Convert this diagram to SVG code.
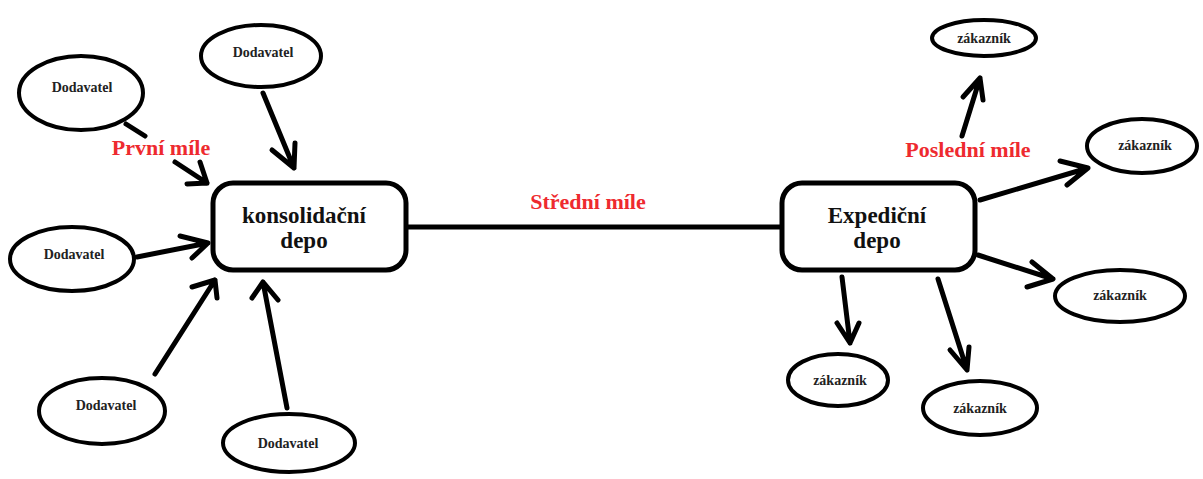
<svg xmlns="http://www.w3.org/2000/svg" width="1203" height="479" viewBox="0 0 1203 479">
<style>
.ell{fill:#fff;stroke:#000;stroke-width:4}
.box{fill:#fff;stroke:#000;stroke-width:5}
.con{fill:none;stroke:#000;stroke-width:5;stroke-linecap:round;stroke-linejoin:round}
.sm{font-family:"Liberation Serif",serif;font-weight:bold;font-size:14px;fill:#222;text-anchor:middle}
.big{font-family:"Liberation Serif",serif;font-weight:bold;font-size:23px;fill:#111;text-anchor:middle}
.red{font-family:"Liberation Serif",serif;font-weight:bold;font-size:22px;fill:#ee2a2f;text-anchor:middle}
</style>
<rect width="1203" height="479" fill="#fff"/>
<g id="connectors">
<path class="con" d="M408,227 L782,227"/>
<path class="con" d="M126,124 L145,136 M175,162 L207,183 M187,184 L207,183 L200,162"/>
<path class="con" d="M263,93 L294,168 M272,150 L294,168 L295,143"/>
<path class="con" d="M137,257 L208,243 M180,236 L208,243 L192,258"/>
<path class="con" d="M155,374 L215,280 M192,287 L215,280 L217,298"/>
<path class="con" d="M287,408 L263,282 M252,298 L263,282 L278,300"/>
<path class="con" d="M962,136 L980,78 M963,97 L980,78 L983,100"/>
<path class="con" d="M980,200 L1088,168 M1060,161 L1088,168 L1067,185"/>
<path class="con" d="M978,255 L1053,279 M1032,262 L1053,279 L1027,287"/>
<path class="con" d="M842,277 L850,343 M837,323 L850,343 L859,323"/>
<path class="con" d="M938,279 L967,370 M950,350 L967,370 L969,347"/>
</g>
<g id="konsolidacni-depo">
<rect class="box" x="213" y="183" width="193" height="87" rx="20"/>
<text class="big" x="304" y="223">konsolidační</text>
<text class="big" x="304" y="248">depo</text>
</g>
<g id="expedicni-depo">
<rect class="box" x="782" y="183" width="193" height="87" rx="20"/>
<text class="big" x="877" y="223">Expediční</text>
<text class="big" x="877" y="248">depo</text>
</g>
<g id="dodavatel-1">
<ellipse class="ell" cx="81" cy="93" rx="62" ry="37"/>
<text class="sm" x="82" y="92">Dodavatel</text>
</g>
<g id="dodavatel-2">
<ellipse class="ell" cx="261" cy="56" rx="60" ry="31"/>
<text class="sm" x="263" y="57">Dodavatel</text>
</g>
<g id="dodavatel-3">
<ellipse class="ell" cx="72" cy="259" rx="62" ry="32"/>
<text class="sm" x="74" y="259">Dodavatel</text>
</g>
<g id="dodavatel-4">
<ellipse class="ell" cx="102" cy="411" rx="63" ry="33"/>
<text class="sm" x="106" y="410">Dodavatel</text>
</g>
<g id="dodavatel-5">
<ellipse class="ell" cx="289" cy="443" rx="66" ry="29"/>
<text class="sm" x="288" y="448">Dodavatel</text>
</g>
<g id="zakaznik-1">
<ellipse class="ell" cx="984" cy="38" rx="52" ry="18"/>
<text class="sm" x="984" y="43">zákazník</text>
</g>
<g id="zakaznik-2">
<ellipse class="ell" cx="1142" cy="146" rx="55" ry="27"/>
<text class="sm" x="1145" y="150">zákazník</text>
</g>
<g id="zakaznik-3">
<ellipse class="ell" cx="1120" cy="296" rx="65" ry="26"/>
<text class="sm" x="1120" y="300">zákazník</text>
</g>
<g id="zakaznik-4">
<ellipse class="ell" cx="838" cy="380" rx="50" ry="26"/>
<text class="sm" x="840" y="385">zákazník</text>
</g>
<g id="zakaznik-5">
<ellipse class="ell" cx="980" cy="408" rx="57" ry="27"/>
<text class="sm" x="980" y="413">zákazník</text>
</g>
<g id="labels">
<text class="red" x="161" y="155">První míle</text>
<text class="red" x="588" y="209">Střední míle</text>
<text class="red" x="968" y="157">Poslední míle</text>
</g>
</svg>
